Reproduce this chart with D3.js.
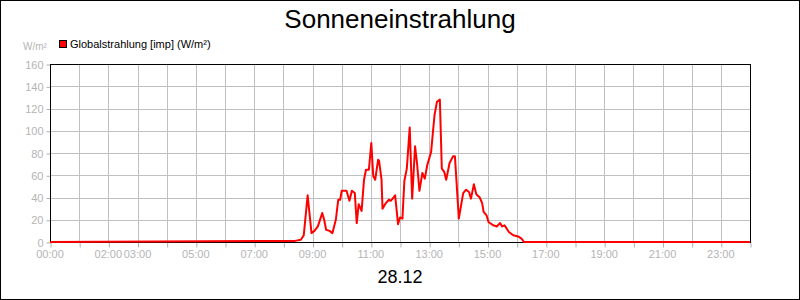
<!DOCTYPE html>
<html>
<head>
<meta charset="utf-8">
<script src="https://cdn.jsdelivr.net/npm/d3@7"></script>
<style>
  body { margin: 0; background: #fff; }
  svg { display: block; font-family: "Liberation Sans", Arial, sans-serif; }
</style>
</head>
<body>
<svg id="canvas" width="800" height="300"></svg>
<script>
// readings of the day (time of day, W/m²)
let times = ['00:00', '08:24', '08:36', '08:42', '08:50', '08:58', '09:04', '09:11', '09:20', '09:24',
  '09:28', '09:35', '09:41', '09:48', '09:53', '09:57', '10:00', '10:10', '10:16', '10:21',
  '10:27', '10:31', '10:35', '10:41', '10:46', '10:50', '10:56', '11:01', '11:05', '11:09',
  '11:15', '11:17', '11:22', '11:24', '11:31', '11:37', '11:41', '11:45', '11:50', '11:56',
  '12:00', '12:05', '12:09', '12:14', '12:20', '12:25', '12:31', '12:35', '12:40', '12:46',
  '12:51', '12:56', '13:04', '13:11', '13:16', '13:22', '13:26', '13:31', '13:35', '13:42',
  '13:49', '13:53', '14:01', '14:10', '14:16', '14:22', '14:26', '14:32', '14:37', '14:44',
  '14:49', '14:52', '14:58', '15:02', '15:12', '15:19', '15:26', '15:30', '15:35', '15:44',
  '15:53', '16:03', '16:10', '16:15', '24:00'];
let values = [0, 1, 2, 6, 42, 8, 10, 14, 26, 20,
  11, 10, 8, 20, 38, 38, 46, 46, 37, 46,
  44, 17, 34, 28, 56, 65, 65, 89, 59, 56,
  74, 73, 56, 30, 35, 38, 37, 39, 42, 16,
  22, 21, 55, 66, 103, 39, 86, 71, 46, 62,
  57, 69, 81, 114, 126, 128, 66, 63, 56, 71,
  77, 77, 21, 44, 47, 45, 39, 52, 43, 40,
  35, 27, 24, 18, 15, 14, 17, 14, 15, 9,
  6, 5, 3, 0, 0];

let yTicks = [0, 20, 40, 60, 80, 100, 120, 140, 160];
let xLabels = ['00:00', '02:00', '03:00', '05:00', '07:00', '09:00', '11:00', '13:00', '15:00', '17:00', '19:00', '21:00', '23:00'];

let title = 'Sonneneinstrahlung';
let dateLabel = '28.12';
let seriesName = 'Globalstrahlung [imp] (W/m²)';
let unit = 'W/m²';

let canvas = d3.select('#canvas');

const toHours = (t) => {
  let parts = t.split(':');
  return +parts[0] + (+parts[1]) / 60;
}

const drawChart = () => {
  let left = 50, right = 750, top = 64, bottom = 242;

  let xScale = d3.scaleLinear().domain([0, 24]).range([left, right]);
  let yScale = d3.scaleLinear().domain([0, 160]).range([bottom, top]);

  // outer border
  canvas.append('rect')
    .attr('x', 0.5).attr('y', 0.5)
    .attr('width', 799).attr('height', 299)
    .attr('fill', 'white').attr('stroke', 'black');

  // grid
  let grid = canvas.append('g');
  grid.selectAll('.hgrid')
    .data(yTicks.slice(1))
    .enter()
    .append('line')
    .attr('x1', left).attr('x2', right)
    .attr('y1', (d) => Math.round(yScale(d)) + 0.5)
    .attr('y2', (d) => Math.round(yScale(d)) + 0.5)
    .attr('stroke', '#c0c0c0');
  grid.selectAll('.vgrid')
    .data(d3.range(1, 24))
    .enter()
    .append('line')
    .attr('x1', (d) => Math.round(xScale(d)) + 0.5)
    .attr('x2', (d) => Math.round(xScale(d)) + 0.5)
    .attr('y1', top).attr('y2', bottom)
    .attr('stroke', '#c0c0c0');

  // y axis
  let yAxis = d3.axisLeft(yScale).tickValues(yTicks).tickSize(4).tickPadding(3);
  let yG = canvas.append('g').attr('transform', `translate(${left + 0.5}, 0.5)`).call(yAxis);
  yG.select('.domain').remove();
  yG.selectAll('.tick line').attr('stroke', '#b0b0b0');
  yG.selectAll('.tick text')
    .attr('fill', '#b4b4b4')
    .style('font-size', '11px')
    .style('font-family', '"Liberation Sans", Arial, sans-serif');

  // x axis
  let xAxis = d3.axisBottom(xScale).tickValues(d3.range(0, 25)).tickSize(5).tickFormat('');
  let xG = canvas.append('g').attr('transform', `translate(0.5, ${bottom + 0.5})`).call(xAxis);
  xG.select('.domain').remove();
  xG.selectAll('.tick line').attr('stroke', '#b0b0b0');

  canvas.append('g')
    .selectAll('text')
    .data(xLabels)
    .enter()
    .append('text')
    .attr('x', (d) => xScale(toHours(d)))
    .attr('y', 258)
    .attr('text-anchor', 'middle')
    .attr('fill', '#b4b4b4')
    .style('font-size', '11px')
    .text((d) => d);

  // frame
  canvas.append('rect')
    .attr('x', left + 0.5).attr('y', top + 0.5)
    .attr('width', right - left).attr('height', bottom - top)
    .attr('fill', 'none').attr('stroke', 'black');

  // series line
  let points = times.map((t, i) => [toHours(t), values[i]]);
  let line = d3.line()
    .x((d) => xScale(d[0]))
    .y((d) => yScale(d[1]));
  canvas.append('path')
    .datum(points)
    .attr('d', line)
    .attr('fill', 'none')
    .attr('stroke', '#ff0000')
    .attr('stroke-width', 2)
    .attr('stroke-linejoin', 'round');

  // texts
  canvas.append('text')
    .attr('x', 400).attr('y', 28)
    .attr('text-anchor', 'middle')
    .style('font-size', '26px')
    .text(title);

  canvas.append('text')
    .attr('x', 400).attr('y', 283)
    .attr('text-anchor', 'middle')
    .style('font-size', '18px')
    .text(dateLabel);

  canvas.append('rect')
    .attr('x', 59.5).attr('y', 40.5)
    .attr('width', 7).attr('height', 7)
    .attr('fill', '#ff0000').attr('stroke', 'black');

  canvas.append('text')
    .attr('x', 70).attr('y', 48)
    .style('font-size', '11px')
    .text(seriesName);

  canvas.append('text')
    .attr('x', 23).attr('y', 50)
    .attr('fill', '#b4b4b4')
    .style('font-size', '10px')
    .text(unit);
}

drawChart();
</script>
</body>
</html>
